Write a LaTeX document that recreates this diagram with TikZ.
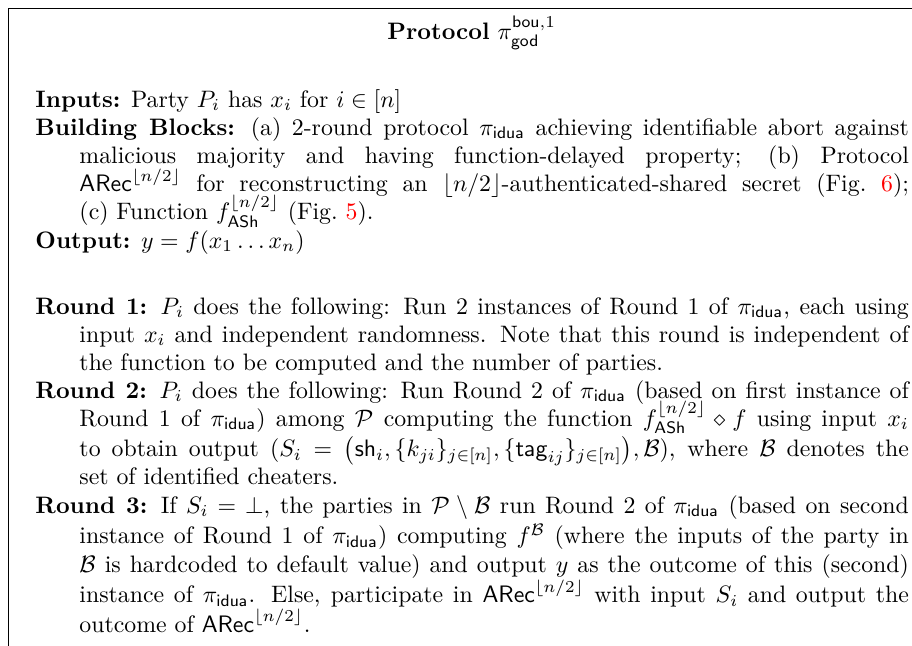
\documentclass[tikz,border=0pt]{standalone}
\usepackage{amsmath,amssymb}
\usepackage{xcolor}
% one hanging-indent paragraph of the protocol description
\newcommand{\protpara}[1]{%
  \parbox[t]{367pt}{\fontsize{10}{11.9}\selectfont
    \lineskiplimit=-20pt\lineskip=0pt
    \hangindent=18.5pt\hangafter=1\noindent #1\par}}
\newcommand{\pushline}[1]{\vadjust{\vskip #1}}
\begin{document}
\begin{tikzpicture}[x=1pt,y=1pt,
  para/.style={anchor=base west, inner sep=0pt},
  frameline/.style={line width=0.45pt, black}]
\useasboundingbox (0,0) rectangle (383.2,-271.4);
\begin{scope}
\clip (0,0) rectangle (383.2,-271.4);
% open frame: only the top and left rules fall inside the page
\draw[frameline] (3.4,-280) -- (3.4,-3.4) -- (400,-3.4);
\end{scope}

\node[anchor=base, inner sep=0pt, font=\fontsize{10}{12}\selectfont] (title) at (198.2,-16.4)
  {\textbf{Protocol} $\pi^{\mathsf{bou},1}_{\mathsf{god}}$};

\node[para] (inputs) at (14.7,-44.96)
  {\protpara{\textbf{Inputs:} Party $P_i$ has $x_i$ for $i \in [n]$}};

\node[para] (blocks) at (14.7,-56.72)
  {\protpara{\textbf{Building Blocks:} (a) 2-round protocol $\pi_{\mathsf{idua}}$ achieving identifiable abort against\linebreak
  malicious majority and having function-delayed property; (b) Protocol\linebreak
  $\mathsf{ARec}^{\lfloor n/2 \rfloor}$ for reconstructing an $\lfloor n/2 \rfloor$-authenticated-shared secret (Fig.~{\color{red}6});\linebreak
  (c) Function $f^{\lfloor n/2\rfloor}_{\mathsf{ASh}}$ (Fig.~{\color{red}5}).}};

\node[para] (output) at (14.7,-104.2)
  {\protpara{\textbf{Output:} $y = f(x_1 \ldots x_n)$}};

\node[para] (round1) at (14.7,-131.93)
  {\protpara{\textbf{Round 1:} $P_i$ does the following: Run 2 instances of Round 1 of $\pi_{\mathsf{idua}}$, each using\linebreak
  input $x_i$ and independent randomness. Note that this round is independent of\linebreak
  the function to be computed and the number of parties.}};

\node[para] (round2) at (14.7,-167.23)
  {\protpara{\textbf{Round 2:} $P_i$ does the following: Run Round 2 of $\pi_{\mathsf{idua}}$ (based on first instance of\linebreak
  Round 1 of $\pi_{\mathsf{idua}}$) among $\mathcal{P}$ computing the function $f^{\lfloor n/2\rfloor}_{\mathsf{ASh}} \diamond f$ using input $x_i$\pushline{0.8pt}\linebreak
  to obtain output $(S_i = \big(\mathsf{sh}_i, \{k_{ji}\}_{j\in[n]}, \{\mathsf{tag}_{ij}\}_{j\in[n]}\big), \mathcal{B})$, where $\mathcal{B}$ denotes the\linebreak
  set of identified cheaters.}};

\node[para] (round3) at (14.7,-215.55)
  {\protpara{\textbf{Round 3:} If $S_i = \bot$, the parties in $\mathcal{P}\setminus\mathcal{B}$ run Round 2 of $\pi_{\mathsf{idua}}$ (based on second\pushline{1.1pt}\linebreak
  instance of Round 1 of $\pi_{\mathsf{idua}}$) computing $f^{\mathcal{B}}$ (where the inputs of the party in\pushline{0.3pt}\linebreak
  $\mathcal{B}$ is hardcoded to default value) and output $y$ as the outcome of this (second)\pushline{0.7pt}\linebreak
  instance of $\pi_{\mathsf{idua}}$. Else, participate in $\mathsf{ARec}^{\lfloor n/2\rfloor}$ with input $S_i$ and output the\pushline{0.3pt}\linebreak
  outcome of $\mathsf{ARec}^{\lfloor n/2\rfloor}$.}};
\end{tikzpicture}
\end{document}
